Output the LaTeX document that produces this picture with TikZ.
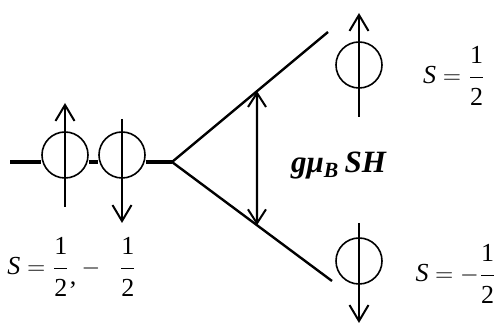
\documentclass[tikz,border=0pt]{standalone}
\usepackage{amsmath}
\usepackage{fontspec}
\setmainfont{Liberation Serif}
\usetikzlibrary{arrows.meta, calc}
\newcommand{\half}{\dfrac{\raisebox{2pt}{\normalfont 1}}{\raisebox{-2.5pt}{\normalfont 2}}}

\begin{document}
\begin{tikzpicture}[
  x=0.5pt, y=-0.5pt,
  spin/.style={draw, circle, line width=0.8pt, minimum size=23pt, inner sep=0pt},
  lvl/.style={line width=1.6pt},
  branch/.style={line width=1.2pt},
  sarr/.style={-{Straight Barb[length=8pt, width=9.5pt, line width=1pt]}, line width=1.1pt},
  gap/.style={{Straight Barb[length=7pt, width=9pt, line width=1pt]}-{Straight Barb[length=7pt, width=9pt, line width=1pt]}, line width=1.1pt},
  lbl/.style={font=\fontsize{13}{16}\selectfont, inner sep=0pt}
]
  \useasboundingbox (0,0) rectangle (498,325);

  % zero field level with two spins
  \coordinate (lstart) at (10,162);
  \coordinate (split) at (172,162);
  \node[spin] (up0) at (65,155) {};
  \node[spin] (dn0) at (122,155) {};
  \draw[lvl] (lstart) -- (lstart -| up0.west);
  \draw[lvl] (lstart -| up0.east) -- (lstart -| dn0.west);
  \draw[lvl] (lstart -| dn0.east) -- (split);
  \coordinate (up0a) at (65,207);  \coordinate (up0b) at (65,103);
  \coordinate (dn0a) at (122,119); \coordinate (dn0b) at (122,223);
  \draw[sarr] (up0a) -- (up0b);
  \draw[sarr] (dn0a) -- (dn0b);

  % Zeeman splitting
  \coordinate (upend) at (328,32);
  \coordinate (dnend) at (332,281);
  \draw[branch] (split) -- (upend);
  \draw[branch] (split) -- (dnend);
  \coordinate (gaptop) at ($(split)!0.545!(upend)$);
  \coordinate (gapbot) at ($(split)!0.531!(dnend)$);
  \draw[gap] (gaptop) -- (gapbot);
  \node[lbl, font=\fontsize{15.5}{18}\selectfont] (energy) at (339,166)
    {\textbf{\textit{gμ}}$_{\textbf{\textit{B}}}$\,\textbf{\textit{SH}}};

  % split levels
  \node[spin] (up1) at (359,65) {};
  \node[spin] (dn1) at (359,261) {};
  \coordinate (up1a) at (359,117); \coordinate (up1b) at (359,13);
  \coordinate (dn1a) at (359,223); \coordinate (dn1b) at (359,323);
  \draw[sarr] (up1a) -- (up1b);
  \draw[sarr] (dn1a) -- (dn1b);

  \node[lbl, anchor=east] (sup) at (486,76) {$\mathit{S}=\half$};
  \node[lbl, anchor=east] (sdn) at (497,274) {$\mathit{S}=-\half$};
  \node[lbl, anchor=west] (sboth) at (7,267)
    {$\mathit{S}=\half\raisebox{-0.35em}{,}-\;\;\half$};
\end{tikzpicture}
\end{document}
